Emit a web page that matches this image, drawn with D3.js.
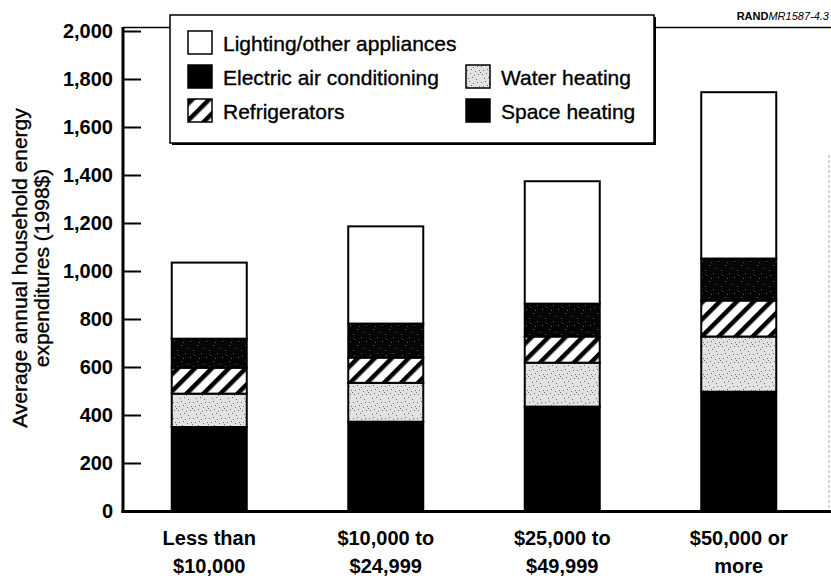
<!DOCTYPE html>
<html>
<head>
<meta charset="utf-8">
<script src="https://cdn.jsdelivr.net/npm/d3@7/dist/d3.min.js"></script>
<style>
  html, body { margin: 0; padding: 0; background: #fff; }
  svg { display: block; }
  text { font-family: "Liberation Sans", Arial, Helvetica, sans-serif; fill: #000; }
</style>
</head>
<body>
<svg id="chart" width="831" height="580"></svg>
<script>
// ---- data ----
const categories = ["Less than $10,000", "$10,000 to $24,999", "$25,000 to $49,999", "$50,000 or more"];
const categoryLine1 = ["Less than", "$10,000 to", "$25,000 to", "$50,000 or"];
const categoryLine2 = ["$10,000", "$24,999", "$49,999", "more"];
const seriesKeys = ["space", "water", "fridge", "ac", "lighting"];
const seriesNames = ["Space heating", "Water heating", "Refrigerators", "Electric air conditioning", "Lighting/other appliances"];
const spaceHeating = [350, 372, 435, 497];
const waterHeating = [139, 162, 183, 230];
const refrigerators = [108, 105, 109, 150];
const airConditioning = [121, 142, 137, 175];
const lightingOther = [317, 405, 510, 693];
const yTicks = [0, 200, 400, 600, 800, 1000, 1200, 1400, 1600, 1800, 2000];
const yTitle1 = "Average annual household energy";
const yTitle2 = "expenditures (1998$)";
const sourceBold = "RAND";
const sourceItalic = "MR1587-4.3";

// ---- build table ----
const table = categories.map((c, i) => ({
  category: c,
  space: spaceHeating[i],
  water: waterHeating[i],
  fridge: refrigerators[i],
  ac: airConditioning[i],
  lighting: lightingOther[i]
}));

const svg = d3.select("#chart");
const defs = svg.append("defs");

// hatch pattern
const hatch = defs.append("pattern").attr("id", "hatch")
  .attr("patternUnits", "userSpaceOnUse").attr("width", 12).attr("height", 12)
  .attr("patternTransform", "rotate(45)");
hatch.append("rect").attr("width", 12).attr("height", 12).attr("fill", "#fff");
hatch.append("rect").attr("x", 0).attr("width", 4.5).attr("height", 12).attr("fill", "#000");

// light stipple (fixed dot positions)
const lightDots = [[1,2],[5,1],[9,3],[13,2],[3,6],[7,5],[11,7],[15,6],[2,10],[6,9],[10,11],[14,10],[4,14],[8,13],[12,15],[0,8]];
const stip = defs.append("pattern").attr("id", "stipple")
  .attr("patternUnits", "userSpaceOnUse").attr("width", 16).attr("height", 16);
stip.append("rect").attr("width", 16).attr("height", 16).attr("fill", "#e2e2e2");
stip.selectAll("rect.d").data(lightDots).join("rect").attr("class", "d")
  .attr("x", d => d[0]).attr("y", d => d[1]).attr("width", 1).attr("height", 1).attr("fill", "#707070");

// dark stipple
const darkDots = [[2,3],[9,1],[14,5],[5,9],[11,12],[1,14],[7,6]];
const dstip = defs.append("pattern").attr("id", "darkstipple")
  .attr("patternUnits", "userSpaceOnUse").attr("width", 16).attr("height", 16);
dstip.append("rect").attr("width", 16).attr("height", 16).attr("fill", "#050505");
dstip.selectAll("rect.d").data(darkDots).join("rect").attr("class", "d")
  .attr("x", d => d[0]).attr("y", d => d[1]).attr("width", 1).attr("height", 1).attr("fill", "#5a5a5a");

const fills = {
  space: "#000",
  water: "url(#stipple)",
  fridge: "url(#hatch)",
  ac: "url(#darkstipple)",
  lighting: "#fff"
};
const legendFills = {
  space: "#000",
  water: "url(#stipple)",
  fridge: "url(#hatch)",
  ac: "#000",
  lighting: "#fff"
};

// ---- scales ----
const x = d3.scaleBand().domain(categories).range([121, 827]).paddingInner(0.575).paddingOuter(0.2875);
const y = d3.scaleLinear().domain([0, 2000]).range([511, 31]);

// frame: top and right lines
svg.append("line").attr("x1", 123).attr("x2", 831).attr("y1", 27.5).attr("y2", 27.5)
  .attr("stroke", "#000").attr("stroke-width", 1.5);
svg.append("line").attr("x1", 829).attr("x2", 829).attr("y1", 155).attr("y2", 511)
  .attr("stroke", "#aaa").attr("stroke-width", 1).attr("stroke-dasharray", "3,2");

// ---- bars ----
const stacked = d3.stack().keys(seriesKeys)(table);
const gBars = svg.append("g");
stacked.forEach(layer => {
  gBars.append("g").selectAll("rect").data(layer).join("rect")
    .attr("x", d => x(d.data.category))
    .attr("width", x.bandwidth())
    .attr("y", d => y(d[1]))
    .attr("height", d => y(d[0]) - y(d[1]))
    .attr("fill", fills[layer.key])
    .attr("stroke", "#000")
    .attr("stroke-width", 2);
});

// ---- y axis ----
const yAxis = d3.axisLeft(y).tickValues(yTicks).tickFormat(d3.format(","))
  .tickSizeInner(-18).tickSizeOuter(0).tickPadding(10);
const gy = svg.append("g").attr("transform", "translate(123,0)").call(yAxis);
gy.select(".domain").remove();
gy.selectAll(".tick line").attr("stroke", "#000").attr("stroke-width", 2);
gy.selectAll(".tick text").style("font-size", "20px").style("font-weight", "bold")
  .attr("font-family", null);
svg.append("line").attr("x1", 123).attr("x2", 123).attr("y1", 27).attr("y2", 513)
  .attr("stroke", "#000").attr("stroke-width", 3);

// ---- x axis baseline ----
svg.append("line").attr("x1", 121.5).attr("x2", 831).attr("y1", 511.5).attr("y2", 511.5)
  .attr("stroke", "#000").attr("stroke-width", 3);

// x labels
const gx = svg.append("g");
categories.forEach((c, i) => {
  const cx = x(c) + x.bandwidth() / 2;
  gx.append("text").attr("x", cx).attr("y", 545).attr("text-anchor", "middle")
    .style("font-size", "20px").style("font-weight", "bold").text(categoryLine1[i]);
  gx.append("text").attr("x", cx).attr("y", 573).attr("text-anchor", "middle")
    .style("font-size", "20px").style("font-weight", "bold").text(categoryLine2[i]);
});

// y title
const gt = svg.append("g").attr("transform", "translate(0,268) rotate(-90)");
gt.append("text").attr("x", 0).attr("y", 27).attr("text-anchor", "middle")
  .style("font-size", "21px").attr("stroke", "#000").attr("stroke-width", 0.35).text(yTitle1);
gt.append("text").attr("x", 0).attr("y", 49).attr("text-anchor", "middle")
  .style("font-size", "21px").attr("stroke", "#000").attr("stroke-width", 0.35).text(yTitle2);

// source label
const src = svg.append("text").attr("x", 829).attr("y", 20).attr("text-anchor", "end")
  .style("font-size", "11px");
src.append("tspan").style("font-weight", "bold").text(sourceBold);
src.append("tspan").style("font-style", "italic").text(sourceItalic);

// ---- legend ----
const lg = svg.append("g");
lg.append("rect").attr("x", 172).attr("y", 17).attr("width", 484).attr("height", 128).attr("fill", "#000");
lg.append("rect").attr("x", 170).attr("y", 15).attr("width", 484).attr("height", 128)
  .attr("fill", "#fff").attr("stroke", "#000").attr("stroke-width", 1.5);
const legendItems = [
  { key: "lighting", col: 0, row: 0 },
  { key: "ac", col: 0, row: 1 },
  { key: "fridge", col: 0, row: 2 },
  { key: "water", col: 1, row: 1 },
  { key: "space", col: 1, row: 2 }
];
const colX = [188, 466];
legendItems.forEach(it => {
  const sx = colX[it.col], sy = 31 + it.row * 34;
  lg.append("rect").attr("x", sx).attr("y", sy).attr("width", 24).attr("height", 23)
    .attr("fill", legendFills[it.key]).attr("stroke", "#000").attr("stroke-width", 1.5);
  lg.append("text").attr("x", sx + 35).attr("y", sy + 20)
    .style("font-size", "21px").attr("stroke", "#000").attr("stroke-width", 0.35)
    .text(seriesNames[seriesKeys.indexOf(it.key)]);
});
</script>
</body>
</html>
